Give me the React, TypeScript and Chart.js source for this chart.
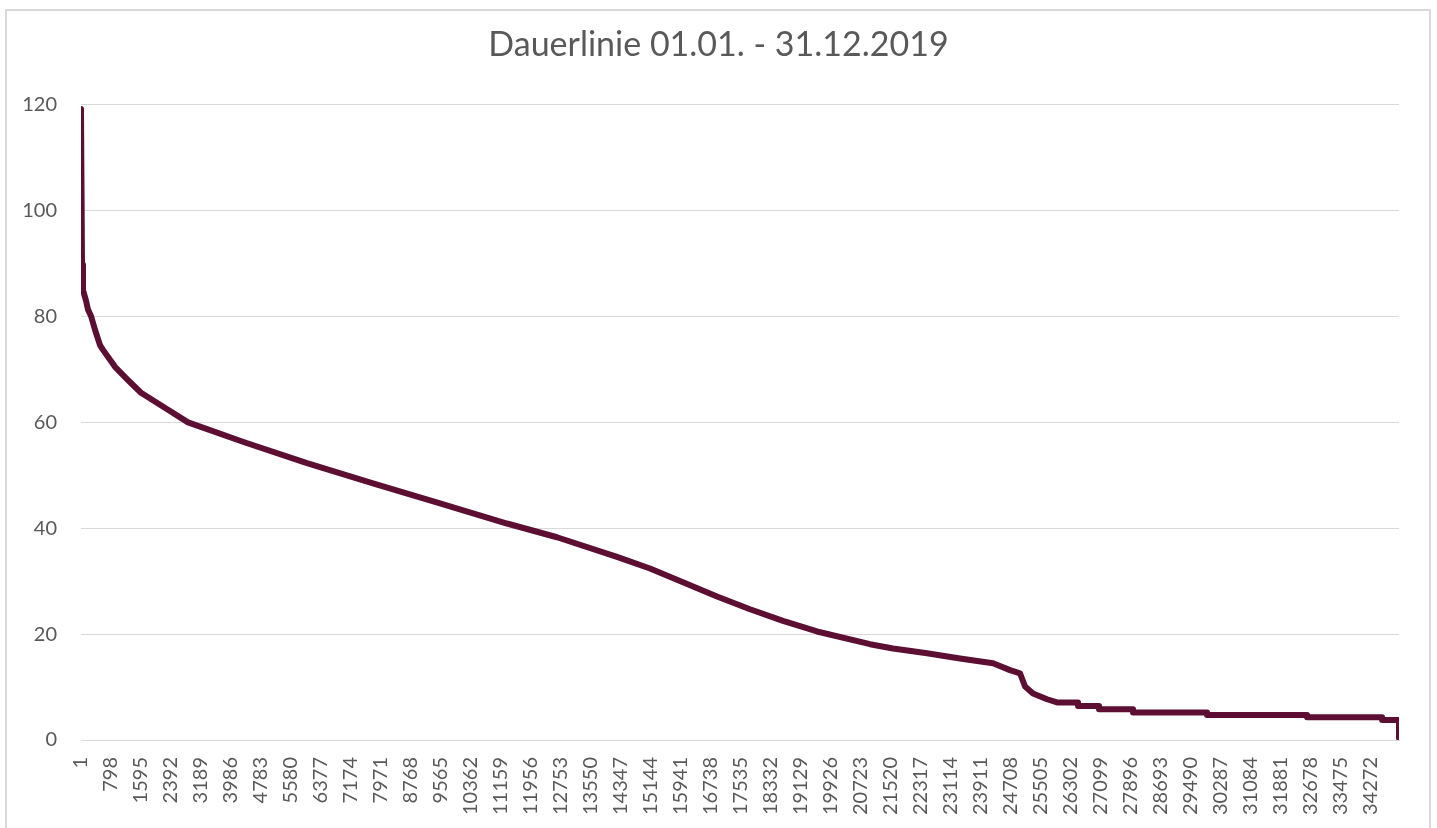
import React, { useEffect, useRef } from "react";
import { Chart, registerables } from "chart.js";

Chart.register(...registerables);

// Duration curve: rank (1..35040 quarter hours) vs. value
const rankPositions = [
  1, 28, 54, 134, 187, 267, 373, 506, 586, 905, 1250, 1596, 2314, 2846, 4361,
  6009, 7764, 9545, 11326, 12655, 14250, 15128, 16005, 16909, 17786, 18664,
  19568, 20977, 21588, 22492, 23370, 24247, 24699, 24965, 25098, 25310, 25683,
  25949, 26507, 26507, 27065, 27065, 27969, 27969, 29937, 29937, 32596, 32596,
  34590, 34590, 35039, 35040,
];
const rankValues = [
  119.2, 89.8, 85.0, 83.0, 81.3, 80.1, 77.5, 74.6, 73.7, 70.5, 68.0, 65.6, 62.4,
  60.0, 56.2, 52.3, 48.5, 44.7, 40.9, 38.3, 34.6, 32.4, 29.8, 27.1, 24.7, 22.5,
  20.5, 18.1, 17.3, 16.4, 15.4, 14.5, 13.2, 12.6, 10.1, 8.8, 7.7, 7.1, 7.1, 6.4,
  6.4, 5.8, 5.8, 5.2, 5.2, 4.7, 4.7, 4.3, 4.3, 3.8, 3.8, 0.4,
];
const xTickLabels = [
  1, 798, 1595, 2392, 3189, 3986, 4783, 5580, 6377, 7174, 7971, 8768, 9565,
  10362, 11159, 11956, 12753, 13550, 14347, 15144, 15941, 16738, 17535, 18332,
  19129, 19926, 20723, 21520, 22317, 23114, 23911, 24708, 25505, 26302, 27099,
  27896, 28693, 29490, 30287, 31084, 31881, 32678, 33475, 34272,
];
const titleText = "Dauerlinie 01.01. - 31.12.2019";

export default function App() {
  const ref = useRef<HTMLCanvasElement | null>(null);

  useEffect(() => {
    if (!ref.current) return;
    const fontFamily = "Lato, 'Open Sans', sans-serif";
    const chart = new Chart(ref.current, {
      type: "line",
      data: {
        datasets: [
          {
            data: rankPositions.map((x, i) => ({ x, y: rankValues[i] })),
            yAxisID: "y",
            borderColor: "#5c0f32",
            borderWidth: 6,
            pointRadius: 0,
            tension: 0,
            borderCapStyle: "round",
            borderJoinStyle: "round",
            fill: false,
          },
        ],
      },
      options: {
        animation: false,
        responsive: false,
        layout: { padding: { left: 0, right: 0, top: 0, bottom: 0 } },
        plugins: {
          legend: { display: false },
          tooltip: { enabled: false },
          title: {
            display: true,
            text: titleText,
            color: "#595959",
            font: { family: fontFamily, size: 34, weight: "normal" },
            padding: { top: 25, bottom: 39 },
          },
        },
        scales: {
          x: {
            type: "linear",
            min: 1,
            max: 35040,
            afterBuildTicks: (scale: any) => {
              scale.ticks = xTickLabels.map((v) => ({ value: v }));
            },
            afterFit: (scale: any) => {
              scale.height = 88;
            },
            grid: { display: false, drawTicks: false },
            border: { display: true, color: "#d9d9d9" },
            ticks: {
              autoSkip: false,
              maxRotation: 90,
              minRotation: 90,
              padding: 17,
              color: "#595959",
              font: { family: fontFamily, size: 20 },
              callback: (v: any) => String(v),
            },
          },
          y: {
            min: 0,
            max: 120,
            afterFit: (scale: any) => {
              scale.width = 81;
            },
            grid: { color: "#d9d9d9", lineWidth: 1, drawTicks: false },
            border: { display: false },
            ticks: {
              stepSize: 20,
              padding: 24,
              color: "#595959",
              font: { family: fontFamily, size: 20 },
            },
          },
          yRight: {
            position: "right",
            min: 0,
            max: 120,
            afterFit: (scale: any) => {
              scale.width = 38;
            },
            grid: { display: false, drawTicks: false },
            border: { display: false },
            ticks: { display: false },
          },
        },
      },
    });
    return () => chart.destroy();
  }, []);

  return (
    <div>
      <div
        style={{
          position: "fixed",
          left: 5,
          top: 9,
          width: 1426,
          height: 840,
          border: "2px solid #d9d9d9",
          boxSizing: "border-box",
          background: "#ffffff",
        }}
      />
      <canvas
        ref={ref}
        width={1437}
        height={828}
        style={{ position: "fixed", left: 0, top: 0, width: 1437, height: 828 }}
      />
    </div>
  );
}
